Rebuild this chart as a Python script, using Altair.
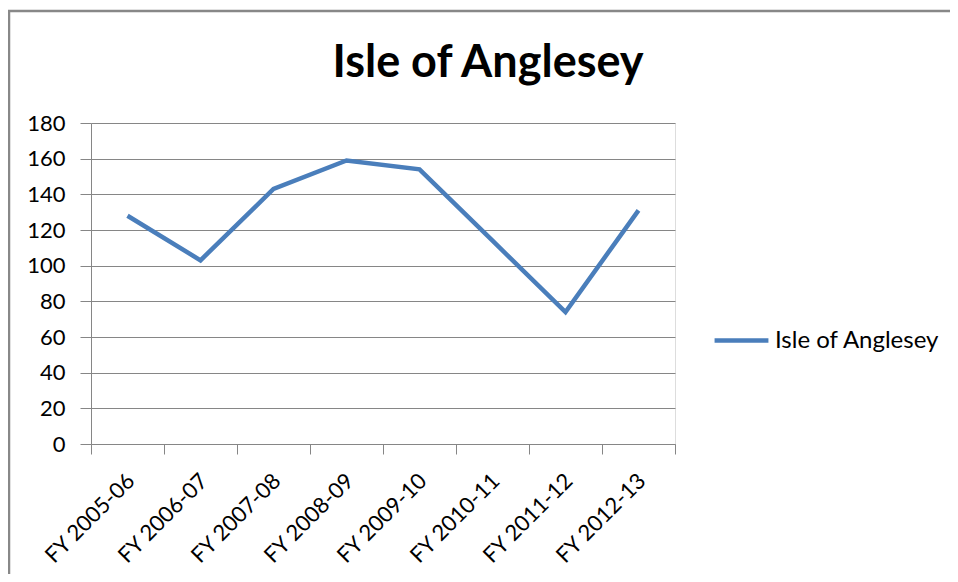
import altair as alt
import pandas as pd

categories = ["FY 2005-06", "FY 2006-07", "FY 2007-08", "FY 2008-09",
              "FY 2009-10", "FY 2010-11", "FY 2011-12", "FY 2012-13"]
values = [128, 103, 143, 159, 154, 114, 74, 131]
series_name = "Isle of Anglesey"
chart_title = "Isle of Anglesey"
y_ticks = [0, 20, 40, 60, 80, 100, 120, 140, 160, 180]

df = pd.DataFrame({"category": categories, "value": values, "series": series_name})

FONT = "Lato"
GRAY = "#868686"
BLUE = "#4A7EBB"

PLOT_W, PLOT_H = 584, 321

border = alt.Chart(alt.Data(values=[{}])).mark_rect(
    fill=None, stroke="#888888", strokeWidth=2.5
).encode(
    x=alt.value(-82), x2=alt.value(1000),
    y=alt.value(-112), y2=alt.value(700)
)

title = alt.Chart(alt.Data(values=[{"t": chart_title}])).mark_text(
    font=FONT, fontSize=45, fontWeight="bold", color="#000000",
    align="center", baseline="alphabetic"
).encode(
    x=alt.value(397), y=alt.value(-46), text="t:N"
)

line = alt.Chart(df).mark_line(strokeWidth=4.5, strokeJoin="miter").encode(
    x=alt.X("category:N", sort=categories, title=None,
            scale=alt.Scale(paddingInner=0, paddingOuter=0),
            axis=alt.Axis(labelAngle=-45, labelAlign="right", labelBaseline="middle",
                          labelFontSize=22, labelFont=FONT, labelColor="#000000",
                          labelOffset=3, labelPadding=23,
                          tickBand="extent", ticks=True, tickSize=10, tickColor=GRAY,
                          domainColor=GRAY, grid=False)),
    y=alt.Y("value:Q", title=None,
            scale=alt.Scale(domain=[0, 180], nice=False),
            axis=alt.Axis(values=y_ticks, labelFontSize=22, labelFont=FONT,
                          labelColor="#000000", labelPadding=15,
                          tickSize=11, tickColor=GRAY, domainColor=GRAY,
                          grid=True, gridColor=GRAY, gridWidth=1)),
    color=alt.Color("series:N", scale=alt.Scale(range=[BLUE]), title=None,
                    legend=alt.Legend(orient="none", legendX=621, legendY=188,
                                      padding=0, labelLimit=400,
                                      symbolType="stroke", symbolSize=2900,
                                      symbolStrokeWidth=4.5, labelFontSize=24,
                                      labelFont=FONT, labelColor="#000000",
                                      labelOffset=4))
)

chart = alt.layer(border, title, line).properties(
    width=PLOT_W, height=PLOT_H,
    autosize=alt.AutoSizeParams(type="none"),
    padding={"left": 83, "top": 115, "right": 275, "bottom": 130},
).configure_view(stroke=None).configure(background="white")

chart.save("out.html", embed_options={"renderer": "svg", "actions": False})
